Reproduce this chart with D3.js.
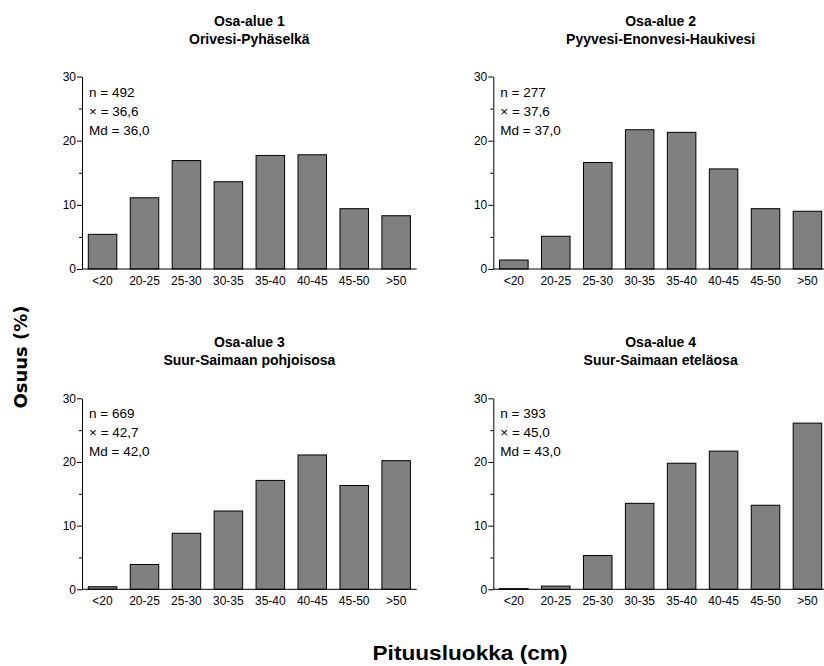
<!DOCTYPE html>
<html><head><meta charset="utf-8">
<script src="https://cdn.jsdelivr.net/npm/d3@7"></script>
<style>body{margin:0;background:#fff}svg{display:block}</style>
</head><body>
<script>
const categories = ["<20","20-25","25-30","30-35","35-40","40-45","45-50",">50"];
const titles1 = ["Osa-alue 1","Osa-alue 2","Osa-alue 3","Osa-alue 4"];
const titles2 = ["Orivesi-Pyhäselkä","Pyyvesi-Enonvesi-Haukivesi","Suur-Saimaan pohjoisosa","Suur-Saimaan eteläosa"];
const values1 = [5.4,11.1,16.9,13.6,17.7,17.8,9.4,8.3];
const values2 = [1.4,5.1,16.6,21.7,21.3,15.6,9.4,9.0];
const values3 = [0.4,3.9,8.8,12.3,17.1,21.1,16.3,20.2];
const values4 = [0.1,0.5,5.3,13.5,19.8,21.7,13.2,26.1];
const nLabels = ["n = 492","n = 277","n = 669","n = 393"];
const meanLabels = ["× = 36,6","× = 37,6","× = 42,7","× = 45,0"];
const mdLabels = ["Md = 36,0","Md = 37,0","Md = 42,0","Md = 43,0"];
const yTicks = [0,5,10,15,20,25,30];
const yLabel = "Osuus (%)";
const xLabel = "Pituusluokka (cm)";

const series = [values1, values2, values3, values4];
const W = 824, H = 666;
const svg = d3.select("body").append("svg").attr("width", W).attr("height", H);
const font = "'Liberation Sans', Arial, sans-serif";

const panels = [
  {x0: 82, x1: 416.7, y0: 76.5, y1: 269},
  {x0: 493.3, x1: 828, y0: 76.5, y1: 269},
  {x0: 82, x1: 416.7, y0: 398.3, y1: 589.3},
  {x0: 493.3, x1: 828, y0: 398.3, y1: 589.3}
];

panels.forEach((p, i) => {
  const g = svg.append("g");
  const x = d3.scaleBand().domain(categories).range([p.x0, p.x1]).paddingInner(0.32).paddingOuter(0.15);
  const y = d3.scaleLinear().domain([0, 30]).range([p.y1, p.y0]);

  g.selectAll("rect").data(series[i]).enter().append("rect")
    .attr("x", (d, j) => x(categories[j]))
    .attr("y", d => y(d))
    .attr("width", x.bandwidth())
    .attr("height", d => y(0) - y(d))
    .attr("fill", "#808080").attr("stroke", "#000").attr("stroke-width", 1);

  g.append("line").attr("x1", p.x0).attr("x2", p.x1).attr("y1", y(0)).attr("y2", y(0))
    .attr("stroke", "#000").attr("stroke-width", 1);
  g.selectAll("text.xt").data(categories).enter().append("text")
    .attr("x", d => x(d) + x.bandwidth()/2).attr("y", y(0) + 16)
    .attr("text-anchor", "middle").attr("font-family", font).attr("font-size", 12).attr("fill", "#000")
    .text(d => d);

  const yAxis = d3.axisLeft(y).tickValues(yTicks)
    .tickSize(0).tickFormat(d => d % 10 === 0 ? d : "");
  const ya = g.append("g").attr("transform", `translate(${p.x0},0)`).call(yAxis);
  ya.select(".domain").attr("stroke", "#000");
  ya.selectAll(".tick line").attr("x2", d => d % 10 === 0 ? -5 : -3).attr("stroke", "#000");
  ya.selectAll(".tick text").attr("x", -6).attr("font-family", font).attr("font-size", 12).attr("fill", "#000");

  const st = [nLabels[i], meanLabels[i], mdLabels[i]];
  g.selectAll("text.st").data(st).enter().append("text")
    .attr("x", p.x0 + 7).attr("y", (d, k) => p.y0 + 20 + k*19)
    .attr("font-family", font).attr("font-size", 13.5).attr("fill", "#000").text(d => d);

  const center = p.x0 + (416.7 - 82) / 2;
  g.append("text").attr("x", center).attr("y", p.y0 - 51).attr("text-anchor", "middle")
    .attr("font-family", font).attr("font-weight", "bold").attr("font-size", 14).text(titles1[i]);
  g.append("text").attr("x", center).attr("y", p.y0 - 33).attr("text-anchor", "middle")
    .attr("font-family", font).attr("font-weight", "bold").attr("font-size", 14).text(titles2[i]);
});

svg.append("text").attr("transform", "translate(27,357) rotate(-90)").attr("text-anchor", "middle")
  .attr("font-family", "'DejaVu Sans', Verdana, sans-serif").attr("font-weight", "bold").attr("font-size", 18).text(yLabel);
svg.append("text").attr("x", 470).attr("y", 660).attr("text-anchor", "middle")
  .attr("font-family", font).attr("font-weight", "bold").attr("font-size", 21)
  .attr("textLength", 195).attr("lengthAdjust", "spacingAndGlyphs").text(xLabel);
</script>
</body></html>
